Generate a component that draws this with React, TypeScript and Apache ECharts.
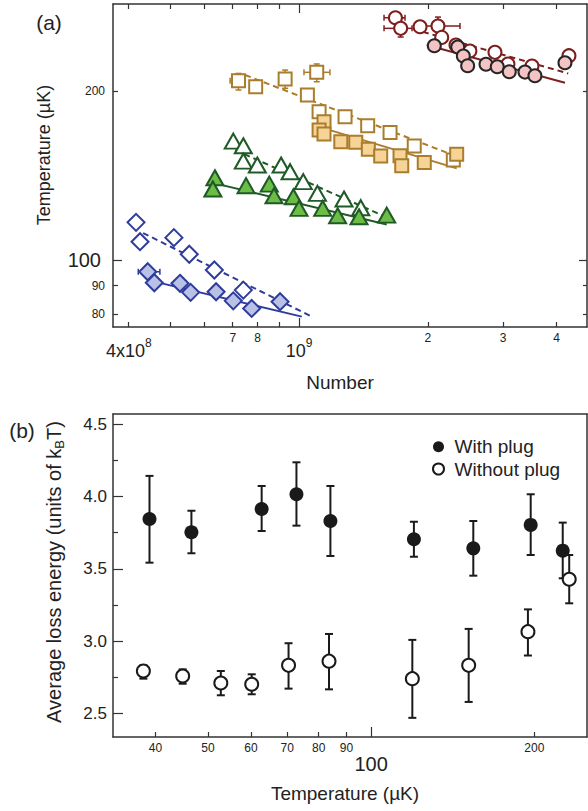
import React, { useEffect, useRef } from "react";
import * as echarts from "echarts";

const FONT = "'Liberation Sans', Arial, Helvetica, sans-serif";
const L = (v: number) => Math.log10(v);

// ---------- Panel (a): [atom number, temperature (µK)] ----------
const blueOpen = [[4.16e8, 116.7], [4.25e8, 107.8], [5.1e8, 109.6], [5.54e8, 102.4], [6.34e8, 96.0], [7.41e8, 88.4]];
const blueFilled = [[4.43e8, 95.3], [4.59e8, 91.1], [5.27e8, 90.9], [5.58e8, 87.6], [6.4e8, 87.8], [7.02e8, 84.6], [7.75e8, 82.0], [9.03e8, 84.3]];
const blueFitOpen = [[4.32e8, 111.7], [1.071e9, 79.3]];
const blueFitFilled = [[4.44e8, 92.1], [1.015e9, 79.3]];
const blueErr = [[4.43e8, 95.3, 4.21e8, 4.73e8, 93.3, 97.2]];

const greenOpen = [[7.02e8, 162.8], [7.41e8, 159.7], [7.41e8, 150.0], [7.99e8, 147.6], [9.08e8, 147.6], [9.53e8, 143.6], [1.023e9, 137.9], [1.104e9, 131.4], [1.274e9, 128.4], [1.394e9, 123.9]];
const greenFilled = [[6.36e8, 140.1], [6.29e8, 133.8], [7.52e8, 135.6], [8.52e8, 136.5], [8.74e8, 130.1], [9.7e8, 129.6], [1.0e9, 123.6], [1.136e9, 123.6], [1.231e9, 119.9], [1.381e9, 119.4], [1.603e9, 120.2]];
const greenFitOpen = [[7.09e8, 156.9], [1.561e9, 120.2]];
const greenFitFilled = [[6.36e8, 136.9], [1.603e9, 115.7]];

const tanOpen = [[7.22e8, 208.5], [7.92e8, 203.4], [9.28e8, 209.9], [1.1e9, 215.8], [1.046e9, 196.6], [1.114e9, 183.6], [1.281e9, 179.9], [1.447e9, 173.4], [1.632e9, 168.7], [1.859e9, 159.5], [2.294e9, 150.6]];
const tanFilled = [[1.144e9, 176.2], [1.114e9, 170.3], [1.144e9, 167.6], [1.252e9, 162.4], [1.357e9, 162.0], [1.452e9, 157.4], [1.552e9, 153.1], [1.722e9, 153.3], [1.738e9, 147.1], [1.962e9, 149.2], [2.336e9, 154.2]];
const tanFitOpen = [[7.48e8, 213.4], [2.294e9, 153.7]];
const tanFitFilled = [[1.119e9, 172.4], [2.336e9, 145.6]];
const tanErr = [
  [7.22e8, 208.5, 6.9e8, 7.48e8, 200.7, 214.8],
  [9.28e8, 209.9, 9.28e8, 9.28e8, 202.1, 217.8],
  [1.1e9, 215.8, 1.027e9, 1.181e9, 207.6, 223.3],
];

const redOpen = [[1.68e9, 269.9], [1.728e9, 258.4], [1.918e9, 260.1], [2.112e9, 260.8], [2.155e9, 249.0], [2.327e9, 241.3], [2.508e9, 235.4], [2.87e9, 234.2], [3.078e9, 223.3], [3.503e9, 221.4], [4.274e9, 231.0]];
const redFilled = [[2.071e9, 240.6], [2.349e9, 239.3], [2.421e9, 230.7], [2.478e9, 221.7], [2.735e9, 223.0], [2.906e9, 220.8], [3.1e9, 216.3], [3.373e9, 216.0], [3.559e9, 212.8], [4.183e9, 224.4]];
const redFitOpen = [[1.849e9, 257.6], [4.258e9, 214.8]];
const redFitFilled = [[1.988e9, 241.3], [4.183e9, 206.8]];
const redErr = [
  [1.68e9, 269.9, 1.58e9, 1.769e9, 265.1, 275.1],
  [1.728e9, 258.4, 1.58e9, 1.837e9, 249.4, 269.6],
  [2.112e9, 260.8, 1.949e9, 2.378e9, 251.4, 270.6],
];

const aXMin = 3.675e8;
const aXMax = 4.71e9;
const aYMin = 76.0;
const aYMax = 285.5;
const aXTicksMinor = [4e8, 5e8, 6e8, 7e8, 8e8, 9e8, 2e9, 3e9, 4e9];
const aXLabelsSmall = [7e8, 8e8, 2e9, 3e9, 4e9];
const aXLabelsBig = [4e8, 1e9];
const aYTicksMinor = [80, 90, 200];
const aYMajor = [100];

// ---------- Panel (b): temperature (µK) vs average loss energy (k_B T) ----------
const withPlugT = [39.0, 46.6, 62.8, 72.8, 84.1, 119.9, 154.3, 196.9, 225.6];
const withPlugE = [3.845, 3.753, 3.914, 4.016, 3.831, 3.705, 3.642, 3.804, 3.626];
const withPlugLo = [3.543, 3.608, 3.762, 3.799, 3.589, 3.584, 3.453, 3.596, 3.435];
const withPlugHi = [4.143, 3.902, 4.073, 4.237, 4.073, 3.826, 3.831, 4.016, 3.82];

const withoutT = [38.0, 44.9, 52.8, 60.2, 70.4, 83.6, 119.1, 151.3, 194.6, 231.9];
const withoutE = [2.794, 2.759, 2.711, 2.702, 2.833, 2.862, 2.741, 2.833, 3.066, 3.428];
const withoutLo = [2.741, 2.706, 2.626, 2.633, 2.672, 2.667, 2.47, 2.58, 2.901, 3.262];
const withoutHi = [2.833, 2.805, 2.794, 2.771, 2.986, 3.05, 3.009, 3.085, 3.22, 3.596];

const bXMin = 33.4;
const bXMax = 250.1;
const bYMin = 2.3375;
const bYMax = 4.571;
const bXTicks = [40, 50, 60, 70, 80, 90, 200];
const bXMajor = [100];
const bYLabels = [2.5, 3.0, 3.5, 4.0, 4.5];
const bYMinor = [2.75, 3.25, 3.75, 4.25];

const RED = "#7d1d1d", RED_FILL = "#f4c4c4", RED_EDGE = "#262626";
const TAN = "#a97d2c", TAN_FILL = "#f6d497";
const GREEN = "#1f5a27", GREEN_FILL = "#6cbd45";
const BLUE = "#2e3c9c", BLUE_FILL = "#b9c1e6";
const AXIS = "#333333";
const INK = "#1a1a1a";

const logPts = (arr: number[][]) => arr.map((p) => [L(p[0]), L(p[1])]);

function errTopRender(color: string) {
  return (params: any, api: any) => {
    const x = api.value(0), y = api.value(1);
    const xlo = api.value(2), xhi = api.value(3), ylo = api.value(4), yhi = api.value(5);
    const st = { stroke: color, lineWidth: 1.5 };
    const cap = 3;
    const ch: any[] = [];
    if (Math.abs(xhi - xlo) > 1e-9) {
      const a = api.coord([xlo, y]), b = api.coord([xhi, y]);
      ch.push({ type: "line", shape: { x1: a[0], y1: a[1], x2: b[0], y2: b[1] }, style: st });
      ch.push({ type: "line", shape: { x1: a[0], y1: a[1] - cap, x2: a[0], y2: a[1] + cap }, style: st });
      ch.push({ type: "line", shape: { x1: b[0], y1: b[1] - cap, x2: b[0], y2: b[1] + cap }, style: st });
    }
    if (Math.abs(yhi - ylo) > 1e-9) {
      const a = api.coord([x, ylo]), b = api.coord([x, yhi]);
      ch.push({ type: "line", shape: { x1: a[0], y1: a[1], x2: b[0], y2: b[1] }, style: st });
      ch.push({ type: "line", shape: { x1: a[0] - cap, y1: a[1], x2: a[0] + cap, y2: a[1] }, style: st });
      ch.push({ type: "line", shape: { x1: b[0] - cap, y1: b[1], x2: b[0] + cap, y2: b[1] }, style: st });
    }
    return { type: "group", children: ch };
  };
}

function errBottomRender(params: any, api: any) {
  const x = api.value(0), lo = api.value(1), hi = api.value(2);
  const p1 = api.coord([x, lo]), p2 = api.coord([x, hi]);
  const w = 4;
  const st = { stroke: INK, lineWidth: 2 };
  return {
    type: "group",
    children: [
      { type: "line", shape: { x1: p1[0], y1: p1[1], x2: p2[0], y2: p2[1] }, style: st },
      { type: "line", shape: { x1: p1[0] - w, y1: p1[1], x2: p1[0] + w, y2: p1[1] }, style: st },
      { type: "line", shape: { x1: p2[0] - w, y1: p2[1], x2: p2[0] + w, y2: p2[1] }, style: st },
    ],
  };
}

function fitLine(data: number[][], color: string, dashed: boolean) {
  return {
    type: "line", xAxisIndex: 0, yAxisIndex: 0, z: 2, silent: true,
    data: logPts(data), symbol: "none",
    lineStyle: { color, width: 2, type: dashed ? [6, 4] : "solid" },
  };
}

function scatterA(data: number[][], symbol: string, size: any, fill: string, edge: string, z: number) {
  return {
    type: "scatter", xAxisIndex: 0, yAxisIndex: 0, z,
    data: logPts(data), symbol, symbolSize: size,
    itemStyle: { color: fill, borderColor: edge, borderWidth: 2, opacity: 1 },
  };
}

function errA(data: number[][], color: string) {
  return {
    type: "custom", xAxisIndex: 0, yAxisIndex: 0, z: 3,
    renderItem: errTopRender(color),
    encode: { x: 0, y: 1 },
    data: data.map((d) => d.map((v) => L(v))),
  };
}

const fmtTopSmall = (v: number) => {
  const raw = Math.pow(10, v);
  const e = Math.floor(v + 1e-9);
  return String(Math.round(raw / Math.pow(10, e)));
};
const fmtTopBig = (v: number) => {
  const e = Math.floor(v + 1e-9);
  const m = Math.round(Math.pow(10, v) / Math.pow(10, e));
  return m === 1 ? `{b|10}{s|${e}}` : `{b|${m}x10}{s|${e}}`;
};
const fmtRound = (v: number) => String(Math.round(Math.pow(10, v)));

export default function App() {
  const ref = useRef<HTMLDivElement>(null);
  useEffect(() => {
    if (!ref.current) return;
    const chart = echarts.init(ref.current, undefined, { renderer: "svg" });
    const axLine = { show: true, onZero: false, lineStyle: { color: AXIS, width: 1.5 } };
    const noLine = { show: false, onZero: false };
    const tickStyle = { color: AXIS, width: 1.2 };
    const aX = { type: "value", gridIndex: 0, min: L(aXMin), max: L(aXMax), splitLine: { show: false } };
    const aY = { type: "value", gridIndex: 0, min: L(aYMin), max: L(aYMax), splitLine: { show: false } };
    const bX = { type: "value", gridIndex: 1, min: L(bXMin), max: L(bXMax), splitLine: { show: false } };
    const bY = { type: "value", gridIndex: 1, min: bYMin, max: bYMax, splitLine: { show: false } };

    const option: any = {
      animation: false,
      backgroundColor: "#ffffff",
      textStyle: { fontFamily: FONT },
      grid: [
        { left: 113, top: 4, width: 474, height: 323 },
        { left: 113, top: 414, width: 474, height: 323 },
      ],
      xAxis: [
        {
          ...aX, position: "bottom", axisLine: axLine,
          axisTick: { show: true, inside: true, length: 5, lineStyle: tickStyle, customValues: aXTicksMinor.map(L) },
          axisLabel: { customValues: aXLabelsSmall.map(L), formatter: fmtTopSmall, fontSize: 12, margin: 5, color: "#222", fontFamily: FONT },
        },
        {
          ...aX, position: "bottom", axisLine: noLine,
          axisTick: { show: true, inside: true, length: 9, lineStyle: tickStyle, customValues: [9] },
          axisLabel: {
            customValues: aXLabelsBig.map(L), formatter: fmtTopBig, margin: 10, color: "#222",
            rich: {
              b: { fontSize: 18, fontFamily: FONT, color: "#222", lineHeight: 20, padding: [7, 0, 0, 0] },
              s: { fontSize: 12, fontFamily: FONT, color: "#222", lineHeight: 14, verticalAlign: "top" },
            },
          },
        },
        {
          ...aX, position: "top", axisLine: axLine,
          axisTick: { show: true, inside: true, length: 5, lineStyle: tickStyle, customValues: aXTicksMinor.map(L) },
          axisLabel: { show: false },
        },
        {
          ...aX, position: "top", axisLine: noLine,
          axisTick: { show: true, inside: true, length: 9, lineStyle: tickStyle, customValues: [9] },
          axisLabel: { show: false },
        },
        {
          ...bX, position: "bottom", axisLine: axLine,
          axisTick: { show: true, inside: true, length: 5, lineStyle: tickStyle, customValues: bXTicks.map(L) },
          axisLabel: { customValues: bXTicks.map(L), formatter: fmtRound, fontSize: 12, margin: 5, color: "#222", fontFamily: FONT },
        },
        {
          ...bX, position: "bottom", axisLine: noLine,
          axisTick: { show: true, inside: true, length: 10, lineStyle: tickStyle, customValues: bXMajor.map(L) },
          axisLabel: { customValues: bXMajor.map(L), formatter: fmtRound, fontSize: 20, margin: 17, color: "#222", fontFamily: FONT },
        },
        {
          ...bX, position: "top", axisLine: axLine, axisTick: { show: false }, axisLabel: { show: false },
        },
      ],
      yAxis: [
        {
          ...aY, position: "left", axisLine: axLine,
          axisTick: { show: true, inside: true, length: 5, lineStyle: tickStyle, customValues: aYTicksMinor.map(L) },
          axisLabel: { customValues: aYTicksMinor.map(L), formatter: fmtRound, fontSize: 12, margin: 8, color: "#222", fontFamily: FONT },
        },
        {
          ...aY, position: "left", axisLine: noLine,
          axisTick: { show: true, inside: true, length: 9, lineStyle: tickStyle, customValues: aYMajor.map(L) },
          axisLabel: { customValues: aYMajor.map(L), formatter: fmtRound, fontSize: 20, margin: 12, color: "#222", fontFamily: FONT },
        },
        {
          ...aY, position: "right", axisLine: axLine,
          axisTick: { show: true, inside: true, length: 4, lineStyle: tickStyle, customValues: aYTicksMinor.map(L) },
          axisLabel: { show: false },
        },
        {
          ...aY, position: "right", axisLine: noLine,
          axisTick: { show: true, inside: true, length: 8, lineStyle: tickStyle, customValues: aYMajor.map(L) },
          axisLabel: { show: false },
        },
        {
          ...bY, position: "left", axisLine: axLine,
          axisTick: { show: true, inside: true, length: 5, lineStyle: tickStyle, customValues: bYMinor },
          axisLabel: { customValues: bYLabels, formatter: (v: number) => v.toFixed(1), fontSize: 17, margin: 6, color: "#222", fontFamily: FONT },
        },
        {
          ...bY, position: "left", axisLine: noLine,
          axisTick: { show: true, inside: true, length: 10, lineStyle: tickStyle, customValues: bYLabels },
          axisLabel: { show: false },
        },
        {
          ...bY, position: "right", axisLine: axLine, axisTick: { show: false }, axisLabel: { show: false },
        },
      ],
      legend: {
        orient: "vertical", left: 427, top: 431.7, itemWidth: 22, itemHeight: 11, itemGap: 2.3,
        textStyle: { fontSize: 19, lineHeight: 20, color: "#222", fontFamily: FONT },
        itemStyle: { opacity: 1 },
        data: [{ name: "With plug", icon: "circle" }, { name: "Without plug", icon: "circle" }],
        selectedMode: false,
      },
      series: [
        fitLine(blueFitOpen, BLUE, true), fitLine(blueFitFilled, BLUE, false),
        fitLine(greenFitOpen, GREEN, true), fitLine(greenFitFilled, GREEN, false),
        fitLine(tanFitOpen, TAN, true), fitLine(tanFitFilled, TAN, false),
        fitLine(redFitOpen, RED, true), fitLine(redFitFilled, RED, false),
        errA(blueErr, BLUE), errA(tanErr, TAN), errA(redErr, RED),
        scatterA(blueOpen, "diamond", 17, "#ffffff", BLUE, 4),
        scatterA(greenOpen, "triangle", [17, 15], "#ffffff", GREEN, 4),
        scatterA(tanOpen, "rect", 13, "#ffffff", TAN, 4),
        scatterA(redOpen, "circle", 13, "#ffffff", RED, 4),
        scatterA(blueFilled, "diamond", 17, BLUE_FILL, BLUE, 5),
        scatterA(greenFilled, "triangle", [17, 15], GREEN_FILL, GREEN, 5),
        scatterA(tanFilled, "rect", 13, TAN_FILL, TAN, 5),
        scatterA(redFilled, "circle", 13, RED_FILL, RED_EDGE, 5),
        {
          type: "custom", xAxisIndex: 4, yAxisIndex: 4, z: 3, renderItem: errBottomRender,
          encode: { x: 0, y: [1, 2] },
          data: withPlugT.map((t, i) => [L(t), withPlugLo[i], withPlugHi[i]]),
        },
        {
          type: "custom", xAxisIndex: 4, yAxisIndex: 4, z: 3, renderItem: errBottomRender,
          encode: { x: 0, y: [1, 2] },
          data: withoutT.map((t, i) => [L(t), withoutLo[i], withoutHi[i]]),
        },
        {
          name: "With plug", type: "scatter", xAxisIndex: 4, yAxisIndex: 4, z: 5,
          symbol: "circle", symbolSize: 14,
          itemStyle: { color: INK, borderColor: INK, borderWidth: 0, opacity: 1 },
          data: withPlugT.map((t, i) => [L(t), withPlugE[i]]),
        },
        {
          name: "Without plug", type: "scatter", xAxisIndex: 4, yAxisIndex: 4, z: 5,
          symbol: "circle", symbolSize: 13,
          itemStyle: { color: "#ffffff", borderColor: INK, borderWidth: 2, opacity: 1 },
          data: withoutT.map((t, i) => [L(t), withoutE[i]]),
        },
      ],
      graphic: [
        { type: "text", x: 49, y: 22, style: { text: "(a)", fontSize: 21, fontFamily: FONT, fill: "#222", align: "center", verticalAlign: "middle" } },
        { type: "text", x: 22, y: 430, style: { text: "(b)", fontSize: 21, fontFamily: FONT, fill: "#222", align: "center", verticalAlign: "middle" } },
        { type: "text", x: 44, y: 155, rotation: Math.PI / 2, style: { text: "Temperature (µK)", fontSize: 18, fontFamily: FONT, fill: "#222", align: "center", verticalAlign: "middle" } },
        { type: "text", x: 340, y: 382, style: { text: "Number", fontSize: 19, fontFamily: FONT, fill: "#222", align: "center", verticalAlign: "middle" } },
        { type: "text", x: 345, y: 793, style: { text: "Temperature (µK)", fontSize: 19, fontFamily: FONT, fill: "#222", align: "center", verticalAlign: "middle" } },
        {
          type: "text", x: 54, y: 572, rotation: Math.PI / 2,
          style: {
            text: "{a|Average loss energy (units of k}{s|B}{a|T)}",
            align: "center", verticalAlign: "middle",
            rich: {
              a: { fontSize: 20, fontFamily: FONT, fill: "#222", color: "#222", lineHeight: 24 },
              s: { fontSize: 13, fontFamily: FONT, fill: "#222", color: "#222", lineHeight: 24, verticalAlign: "bottom", padding: [0, 0, 0, 0] },
            },
          },
        },
      ],
    };
    chart.setOption(option);
    return () => chart.dispose();
  }, []);
  return (
    <div
      ref={ref}
      style={{ position: "absolute", left: 0, top: 0, width: 588, height: 811, background: "#fff" }}
    />
  );
}
